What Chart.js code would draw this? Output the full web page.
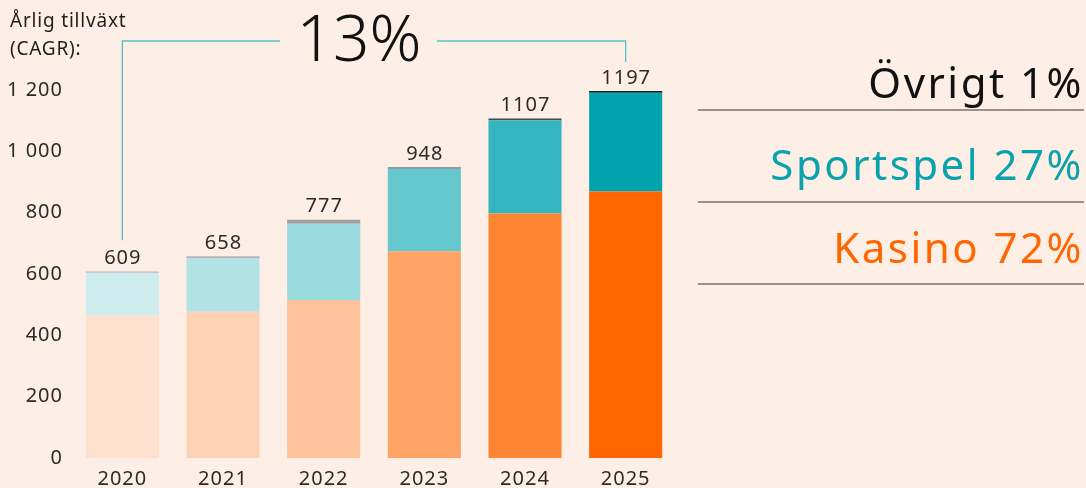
<!DOCTYPE html>
<html>
<head>
<meta charset="utf-8">
<script src="https://cdn.jsdelivr.net/npm/chart.js@4"></script>
<style>
  html, body { margin: 0; padding: 0; background: #fdefe5; }
  #wrap { width: 1086px; height: 488px; position: relative; }
</style>
</head>
<body>
<div id="wrap"><canvas id="barChart" width="1086" height="488"></canvas></div>
<script>
const years = ['2020', '2021', '2022', '2023', '2024', '2025'];
const totals = [609, 658, 777, 948, 1107, 1197];
const kasino = [465, 477, 515, 674, 797, 869];
const ovrigt = [6, 6, 13, 5, 6, 6];
const sportspel = [138, 175, 249, 269, 304, 322];
const yTicks = [0, 200, 400, 600, 800, 1000, 1200];

const kasinoColors = ['#fde0cd', '#fdd1b3', '#fec29a', '#ffa366', '#ff8533', '#ff6600'];
const sportColors = ['#ceeced', '#b3e2e6', '#9adadf', '#66c8cf', '#34b5bf', '#00a3ae'];
const ovrigtColors = ['#c8c8c8', '#b3b3b3', '#a0a0a0', '#7a7a7a', '#4a4a4a', '#1a1a1a'];

const legendRows = [
  {text: 'Övrigt 1%', color: '#111111'},
  {text: 'Sportspel 27%', color: '#0aa3ad'},
  {text: 'Kasino 72%', color: '#ff6600'},
];

const FONT = '"Noto Sans", sans-serif';

document.addEventListener('DOMContentLoaded', () => {

  //wider letters for the axis text (closer to the original typeface)
  const spacing = {
    id: 'spacing',
    beforeDraw(chart) { chart.ctx.letterSpacing = '1px'; },
  };

  //Totals, CAGR bracket and side legend
  const extras = {
    id: 'extras',
    afterDatasetsDraw(chart) {
      const ctx = chart.ctx;
      const top = chart.getDatasetMeta(2).data;
      ctx.save();

      // totals above bars
      ctx.letterSpacing = '1px';
      ctx.fillStyle = '#2b2b2b';
      ctx.font = '20px ' + FONT;
      ctx.textAlign = 'center';
      ctx.textBaseline = 'middle';
      const labelY = [];
      top.forEach((bar, i) => {
        const y = bar.y - 13;
        labelY.push(y);
        ctx.fillText(totals[i], bar.x + 0.5, y);
      });

      // "Årlig tillväxt (CAGR):"
      ctx.textAlign = 'left';
      ctx.font = '19px ' + FONT;
      ctx.letterSpacing = '0.8px';
      ctx.fillStyle = '#1e1e1e';
      ctx.fillText('Årlig tillväxt', 10, 22);
      ctx.fillText('(CAGR):', 10, 50);

      // bracket
      const x0 = top[0].x;
      const x1 = top[top.length - 1].x;
      const lineY = 41;
      ctx.strokeStyle = '#55c2c7';
      ctx.lineWidth = 1.3;
      ctx.beginPath();
      ctx.moveTo(x0, labelY[0] - 18);
      ctx.lineTo(x0, lineY);
      ctx.lineTo(280, lineY);
      ctx.moveTo(437, lineY);
      ctx.lineTo(x1, lineY);
      ctx.lineTo(x1, labelY[labelY.length - 1] - 16);
      ctx.stroke();

      ctx.letterSpacing = '0px';
      ctx.textAlign = 'center';
      ctx.fillStyle = '#111';
      ctx.font = '300 64px ' + FONT;
      ctx.fillText('13%', 359, 43);

      // legend on the right
      const baselines = [98, 180, 263];
      const rules = [110, 202, 284];
      ctx.textAlign = 'right';
      ctx.textBaseline = 'alphabetic';
      ctx.font = '400 42px ' + FONT;
      ctx.letterSpacing = '2.5px';
      legendRows.forEach((row, i) => {
        ctx.fillStyle = row.color;
        ctx.fillText(row.text, 1084, baselines[i]);
        ctx.strokeStyle = '#333';
        ctx.lineWidth = 1.2;
        ctx.beginPath();
        ctx.moveTo(698, rules[i]);
        ctx.lineTo(1084, rules[i]);
        ctx.stroke();
      });
      ctx.restore();
    }
  };

  const barData = {
    labels: years,
    datasets: [
      {label: 'Kasino', data: kasino, backgroundColor: kasinoColors},
      {label: 'Sportspel', data: sportspel, backgroundColor: sportColors},
      {label: 'Övrigt', data: ovrigt, backgroundColor: ovrigtColors},
    ],
  };

  const barConfig = {
    type: 'bar',
    data: barData,
    options: {
      responsive: false,
      animation: false,
      datasets: {bar: {categoryPercentage: 1, barPercentage: 0.726, borderWidth: 0}},
      layout: {padding: {top: 90, right: 410, left: 0, bottom: 0}},
      plugins: {legend: {display: false}, tooltip: {enabled: false}},
      scales: {
        x: {
          stacked: true,
          grid: {display: false, drawTicks: false},
          border: {display: false},
          ticks: {color: '#2b2b2b', font: {family: FONT, size: 20}, padding: 9},
          afterFit: (scale) => { scale.height = 30; },
        },
        y: {
          stacked: true,
          min: 0,
          max: 1200,
          afterBuildTicks: (scale) => { scale.ticks = yTicks.map(v => ({value: v})); },
          grid: {display: false, drawTicks: false},
          border: {display: false},
          ticks: {
            color: '#2b2b2b',
            font: {family: FONT, size: 20},
            padding: 9,
            callback: (v) => v >= 1000 ? Math.floor(v / 1000) + ' ' + String(v % 1000).padStart(3, '0') : v,
          },
          afterFit: (scale) => { scale.width = 72; },
        },
      },
    },
    plugins: [spacing, extras],
  };

  new Chart(document.getElementById('barChart'), barConfig);
});
</script>
</body>
</html>
